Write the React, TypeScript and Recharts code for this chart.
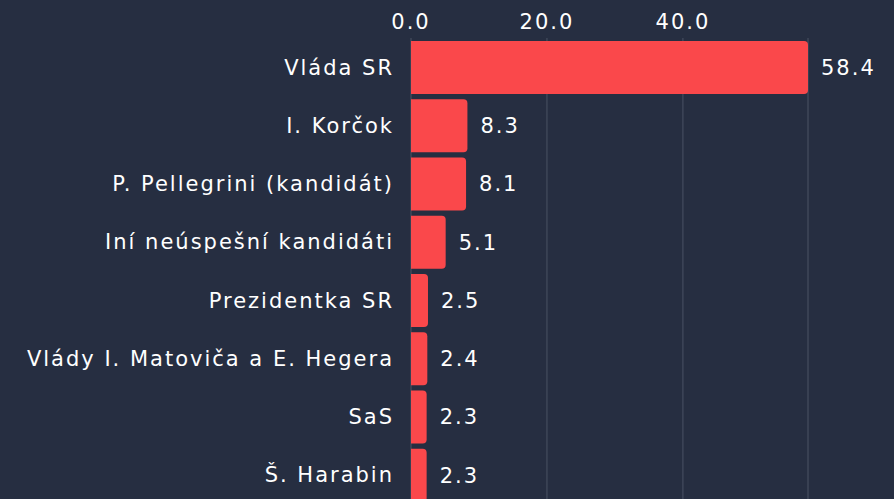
import React from 'react';
import {
  BarChart,
  Bar,
  XAxis,
  YAxis,
  CartesianGrid,
  LabelList,
} from 'recharts';

// Podiel zmienok podľa subjektu
const categories = [
  'Vláda SR',
  'I. Korčok',
  'P. Pellegrini (kandidát)',
  'Iní neúspešní kandidáti',
  'Prezidentka SR',
  'Vlády I. Matoviča a E. Hegera',
  'SaS',
  'Š. Harabin',
];
const values = [58.4, 8.3, 8.1, 5.1, 2.5, 2.4, 2.3, 2.3];
const xTicks = [0, 20, 40];

const BG = '#262e41';
const BAR = '#fa484b';
const FONT = '"DejaVu Sans", "Noto Sans", sans-serif';
const textStyle = { fill: '#ffffff', fontSize: 21, fontFamily: FONT, letterSpacing: 2 };

const data = categories.map((name, i) => ({ name, value: values[i] }));

const App: React.FC = () => {
  return (
    <div
      style={{
        position: 'fixed',
        left: 0,
        top: 0,
        width: 894,
        height: 499,
        overflow: 'hidden',
        background: BG,
        fontFamily: FONT,
      }}
    >
      <BarChart
        width={894}
        height={504}
        data={data}
        layout="vertical"
        margin={{ top: 0, right: 86, left: 0, bottom: 0 }}
        barCategoryGap={2}
      >
        <CartesianGrid horizontal={false} stroke="#4a5264" strokeWidth={1} />
        <XAxis
          type="number"
          orientation="top"
          domain={[0, 'dataMax']}
          ticks={xTicks}
          tickFormatter={(v: number) => v.toFixed(1)}
          axisLine={false}
          tickLine={false}
          tickSize={0}
          tickMargin={9}
          height={38}
          tick={textStyle}
        />
        <YAxis
          type="category"
          dataKey="name"
          width={411}
          axisLine={false}
          tickLine={false}
          tickSize={0}
          tickMargin={17}
          interval={0}
          tick={textStyle}
        />
        <Bar
          dataKey="value"
          fill={BAR}
          barSize={53}
          radius={[0, 4, 4, 0]}
          isAnimationActive={false}
        >
          <LabelList
            dataKey="value"
            position="right"
            offset={13}
            formatter={(v: number) => v.toFixed(1)}
            style={textStyle}
          />
        </Bar>
      </BarChart>
    </div>
  );
};

export default App;
